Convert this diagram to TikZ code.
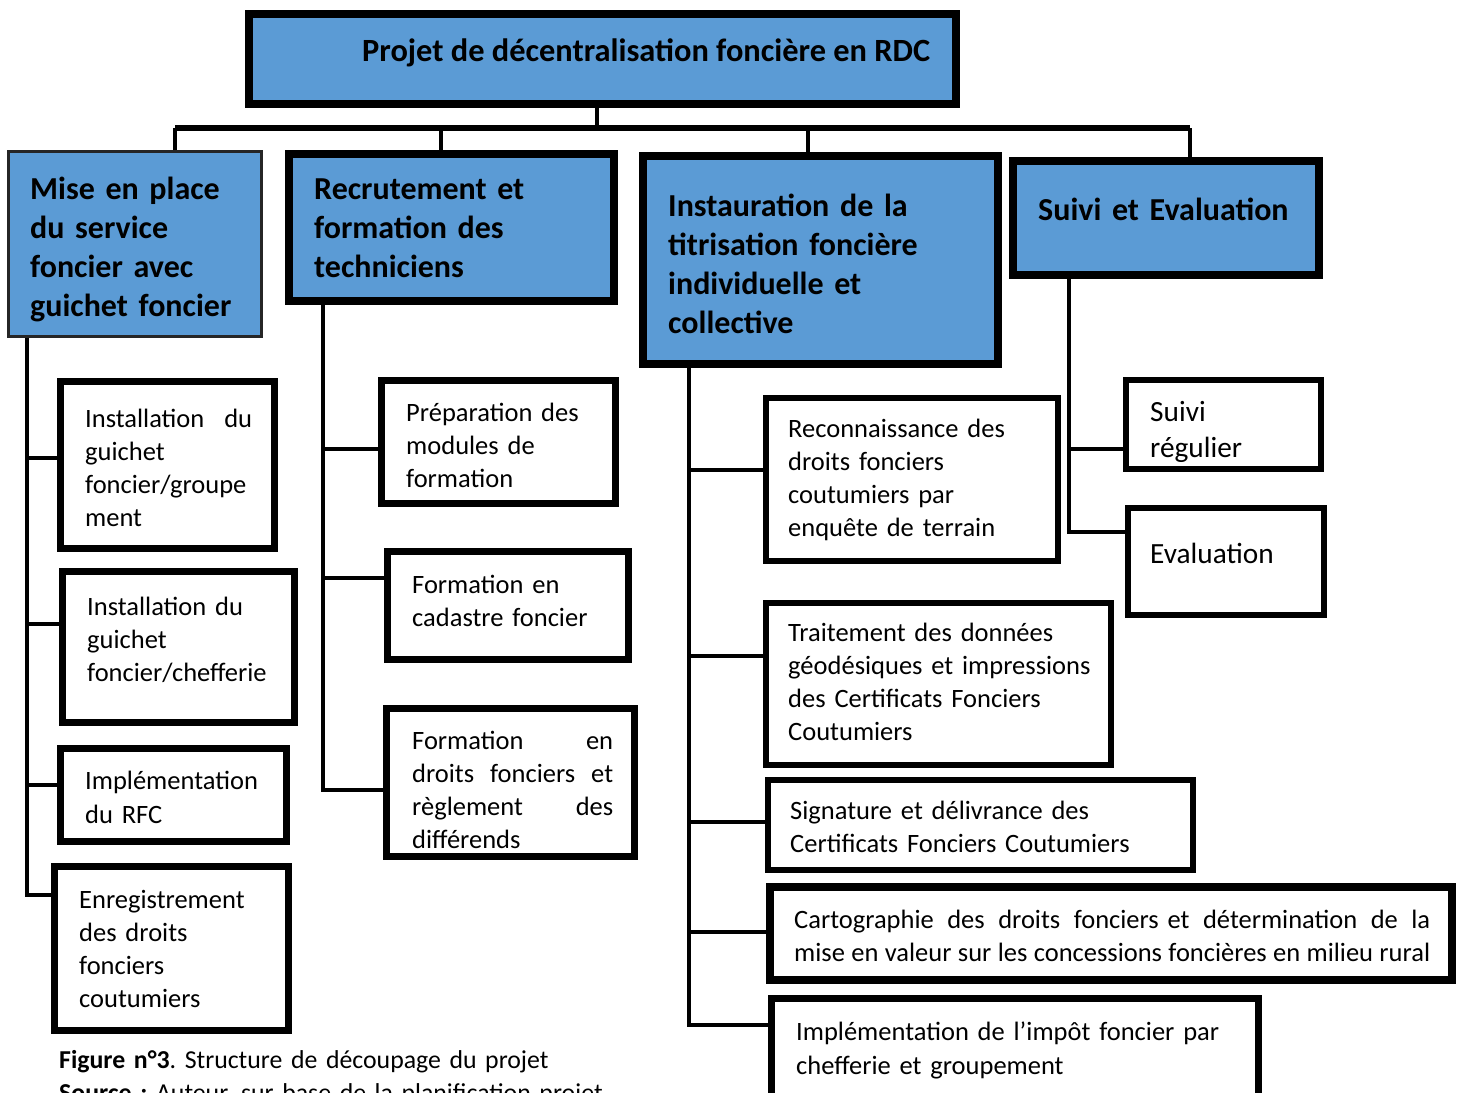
\documentclass[tikz,border=0pt]{standalone}
\usepackage{fontspec}
\setmainfont{Carlito}
\frenchspacing
\definecolor{boxblue}{HTML}{5B9BD5}
\newcommand\fbig{\fontsize{32}{39}\selectfont\bfseries}
\newcommand\fsm{\fontsize{26.5}{33}\selectfont}
\newcommand\fmid{\fontsize{29.3}{36}\selectfont}
\begin{document}
\begin{tikzpicture}[x=1pt,y=-1pt,
  bluebox/.style={draw=black, fill=boxblue, line width=8pt, inner sep=0pt, rectangle},
  whitebox/.style={draw=black, fill=white, line width=7pt, inner sep=0pt, rectangle},
  txt/.style={anchor=base west, inner sep=0pt, align=left},
  conn/.style={draw=black, line width=4.5pt},
  bus/.style={draw=black, line width=6pt}]
\clip (0,0) rectangle (1461,1092);
\fill[white] (0,0) rectangle (1461,1092);

% ---- boxes ----
\node[bluebox, minimum width=707pt, minimum height=90pt] (root) at (602.5,59) {};
\node[bluebox, line width=3pt, draw=black!85, minimum width=253pt, minimum height=185pt] (B1) at (135,244) {};
\node[bluebox, minimum width=325pt, minimum height=147pt] (B2) at (451.5,227.5) {};
\node[bluebox, minimum width=355pt, minimum height=208pt] (B3) at (820.5,260) {};
\node[bluebox, minimum width=306pt, minimum height=114pt] (B4) at (1166,218) {};

\node[whitebox, minimum width=214pt, minimum height=167pt] (C1a) at (167.5,465) {};
\node[whitebox, minimum width=232pt, minimum height=151pt] (C1b) at (178.5,647) {};
\node[whitebox, minimum width=226pt, minimum height=93pt] (C1c) at (173.5,795) {};
\node[whitebox, minimum width=234pt, minimum height=164pt] (C1d) at (171.5,948.5) {};

\node[whitebox, minimum width=234pt, minimum height=123pt] (C2a) at (498.5,442) {};
\node[whitebox, minimum width=241pt, minimum height=108pt] (C2b) at (508,605.5) {};
\node[whitebox, minimum width=248pt, minimum height=148pt] (C2c) at (510.5,782.5) {};

\node[whitebox, line width=6pt, minimum width=292pt, minimum height=163pt] (C3a) at (912,479.5) {};
\node[whitebox, line width=6pt, minimum width=345pt, minimum height=162pt] (C3b) at (938.5,684) {};
\node[whitebox, line width=6pt, minimum width=425pt, minimum height=90pt] (C3c) at (980.5,825) {};
\node[whitebox, line width=8pt, minimum width=682pt, minimum height=93pt] (C3d) at (1111,933.5) {};
\node[whitebox, minimum width=487pt, minimum height=98pt] (C3e) at (1015,1047.5) {};

\node[whitebox, line width=6pt, minimum width=195pt, minimum height=89pt] (C4a) at (1223.5,424.5) {};
\node[whitebox, line width=6pt, minimum width=196pt, minimum height=107pt] (C4b) at (1226,561.5) {};

% ---- top connectors ----
\coordinate (J) at ([xshift=-5.5pt,yshift=-20pt]root.south);
\coordinate (B1top) at ([xshift=40pt]B1.north);
\coordinate (B2top) at ([xshift=-10.5pt]B2.north);
\coordinate (B3top) at ([xshift=-12.5pt]B3.north);
\coordinate (B4top) at ([xshift=24pt]B4.north);
\draw[conn] ([xshift=-5.5pt]root.south) -- (J);
\draw[bus] (B1top |- J) -- (B4top |- J);
\draw[conn] (B1top) -- (B1top |- J);
\draw[conn] (B2top) -- (B2top |- J);
\draw[conn] (B3top) -- (B3top |- J);
\draw[conn, line width=3.5pt] (B4top) -- (B4top |- J);

% ---- column trunks ----
\coordinate (T1) at ([xshift=-108pt]B1.south);
\coordinate (T2) at ([xshift=-128.5pt]B2.south);
\coordinate (T3) at ([xshift=-131.5pt]B3.south);
\coordinate (T4) at ([xshift=-97pt]B4.south);

\coordinate (C1a-in) at ([yshift=7pt]C1a.west);
\coordinate (C1b-in) at ([yshift=23pt]C1b.west);
\coordinate (C1c-in) at ([yshift=10pt]C1c.west);
\coordinate (C1d-in) at ([yshift=53.5pt]C1d.west);
\coordinate (C2a-in) at ([yshift=-7pt]C2a.west);
\coordinate (C2b-in) at ([yshift=27.5pt]C2b.west);
\coordinate (C2c-in) at ([yshift=-7.5pt]C2c.west);
\coordinate (C3a-in) at ([yshift=9.5pt]C3a.west);
\coordinate (C3b-in) at ([yshift=28pt]C3b.west);
\coordinate (C3c-in) at ([yshift=3pt]C3c.west);
\coordinate (C3d-in) at ([yshift=1.5pt]C3d.west);
\coordinate (C3e-in) at ([yshift=22.5pt]C3e.west);
\coordinate (C4a-in) at ([yshift=-24.5pt]C4a.west);
\coordinate (C4b-in) at ([yshift=29.5pt]C4b.west);

\draw[conn] (T1) |- (C1d-in);
\draw[conn] (T1 |- C1a-in) -- (C1a-in);
\draw[conn] (T1 |- C1b-in) -- (C1b-in);
\draw[conn] (T1 |- C1c-in) -- (C1c-in);

\draw[conn] (T2) |- (C2c-in);
\draw[conn] (T2 |- C2a-in) -- (C2a-in);
\draw[conn] (T2 |- C2b-in) -- (C2b-in);

\draw[conn] (T3) |- (C3e-in);
\draw[conn] (T3 |- C3a-in) -- (C3a-in);
\draw[conn] (T3 |- C3b-in) -- (C3b-in);
\draw[conn] (T3 |- C3c-in) -- (C3c-in);
\draw[conn] (T3 |- C3d-in) -- (C3d-in);

\draw[conn, line width=3.5pt] (T4) |- (C4b-in);
\draw[conn] (T4 |- C4a-in) -- (C4a-in);

% ---- texts ----
\node[txt, font=\fontsize{32.4}{39}\selectfont\bfseries] (troot) at (362,61) {Projet de décentralisation foncière en RDC};
\node[txt, font=\fbig, text width=240pt] (tB1) at (30,199) {Mise en place\\du service\\foncier avec\\guichet foncier};
\node[txt, font=\fbig, text width=300pt] (tB2) at (314,199) {Recrutement et\\formation des\\techniciens};
\node[txt, font=\fbig, text width=330pt] (tB3) at (668,216) {Instauration de la\\titrisation foncière\\individuelle et\\collective};
\node[txt, font=\fbig, text width=290pt] (tB4) at (1038,220) {Suivi et Evaluation};

\node[txt, font=\fsm, text width=167pt] (tC1a) at (85,427) {Installation\hfill du\\guichet\\foncier/groupe\\ment};
\node[txt, font=\fsm, text width=200pt] (tC1b) at (87,615) {Installation du\\guichet\\foncier/chefferie};
\node[txt, font=\fontsize{26.5}{34}\selectfont, text width=200pt] (tC1c) at (85,789) {Implémentation\\du RFC};
\node[txt, font=\fsm, text width=200pt] (tC1d) at (79,908) {Enregistrement\\des droits\\fonciers\\coutumiers};

\node[txt, font=\fsm, text width=210pt] (tC2a) at (406,421) {Préparation des\\modules de\\formation};
\node[txt, font=\fsm, text width=210pt] (tC2b) at (412,593) {Formation en\\cadastre foncier};
\node[txt, font=\fsm, text width=201pt] (tC2c) at (412,749) {Formation\hfill en\\droits\hfill fonciers\hfill et\\règlement\hfill des\\différends};

\node[txt, font=\fsm, text width=270pt] (tC3a) at (788,437) {Reconnaissance des\\droits fonciers\\coutumiers par\\enquête de terrain};
\node[txt, font=\fsm, text width=320pt] (tC3b) at (788,641) {Traitement des données\\géodésiques et impressions\\des Certificats Fonciers\\Coutumiers};
\node[txt, font=\fsm, text width=400pt] (tC3c) at (790,819) {Signature et délivrance des\\Certificats Fonciers Coutumiers};
\node[txt, font=\fsm, text width=636pt] (tC3d) at (794,928) {Cartographie\hfill des\hfill droits\hfill fonciers et\hfill détermination\hfill de\hfill la\\\makebox[636pt][s]{\spaceskip=0.15em plus 1em mise en valeur sur les concessions foncières en milieu rural}};
\node[txt, font=\fontsize{26.5}{34}\selectfont, text width=460pt] (tC3e) at (796,1040) {Implémentation de l’impôt foncier par\\chefferie et groupement};

\node[txt, font=\fmid, text width=170pt] (tC4a) at (1150,421) {Suivi\\régulier};
\node[txt, font=\fmid, text width=170pt] (tC4b) at (1150,563) {Evaluation};

\node[txt, font=\fontsize{25.8}{33}\selectfont, text width=700pt] (cap) at (59,1068) {\textbf{Figure n°3}. Structure de découpage du projet\\\textbf{Source :} Auteur, sur base de la planification projet};
\end{tikzpicture}
\end{document}
